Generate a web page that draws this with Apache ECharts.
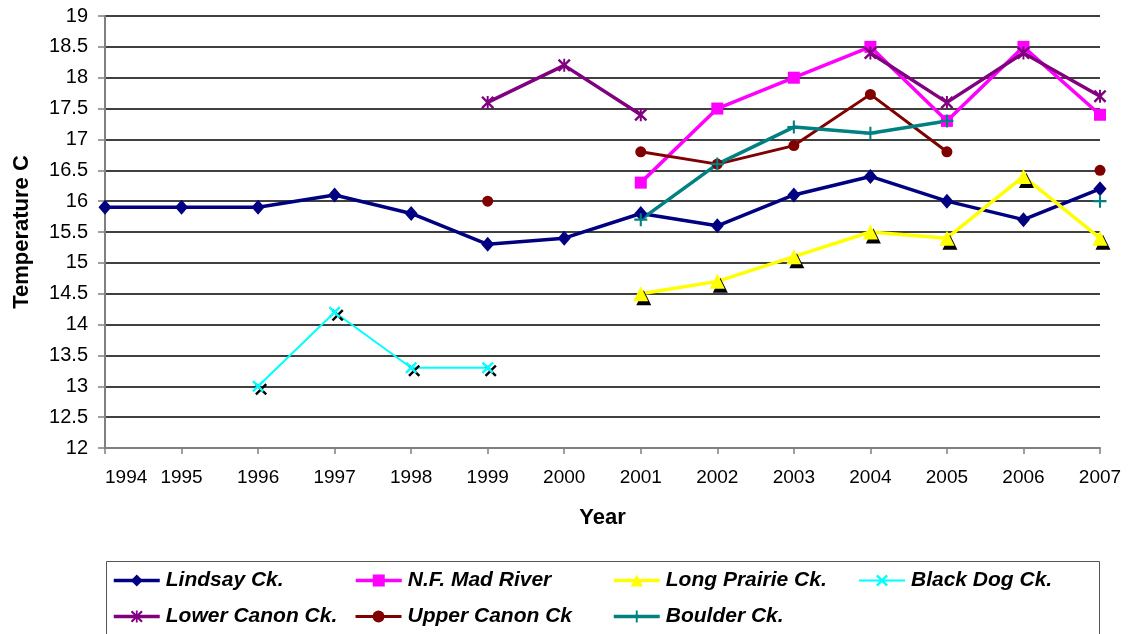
<!DOCTYPE html>
<html>
<head>
<meta charset="utf-8">
<script src="https://cdn.jsdelivr.net/npm/echarts@6/dist/echarts.min.js"></script>
<style>
html,body{margin:0;padding:0;background:#fff;}
#chart{width:1135px;height:634px;}
</style>
</head>
<body>
<div id="chart"></div>
<script>
var years = ['1994','1995','1996','1997','1998','1999','2000','2001','2002','2003','2004','2005','2006','2007'];
var lindsay     = [15.9, 15.9, 15.9, 16.1, 15.8, 15.3, 15.4, 15.8, 15.6, 16.1, 16.4, 16.0, 15.7, 16.2];
var nfMadRiver  = [null, null, null, null, null, null, null, 16.3, 17.5, 18.0, 18.5, 17.3, 18.5, 17.4];
var longPrairie = [null, null, null, null, null, null, null, 14.5, 14.7, 15.1, 15.5, 15.4, 16.4, 15.4];
var blackDog    = [null, null, 13.0, 14.2, 13.3, 13.3, null, null, null, null, null, null, null, null];
var lowerCanon  = [null, null, null, null, null, 17.6, 18.2, 17.4, null, null, 18.4, 17.6, 18.4, 17.7];
var upperCanon  = [null, null, null, null, null, 16.0, null, 16.8, 16.6, 16.9, 17.73, 16.8, null, 16.5];
var boulder     = [null, null, null, null, null, null, null, 15.7, 16.6, 17.2, 17.1, 17.3, null, 16.0];

var FONT = "'Liberation Sans', Arial, sans-serif";
var X_PATH = 'path://M0,1.4L1.4,0L5,3.6L8.6,0L10,1.4L6.4,5L10,8.6L8.6,10L5,6.4L1.4,10L0,8.6L3.6,5Z';
var PLUS_PATH = 'path://M4.2,0H5.8V4.2H10V5.8H5.8V10H4.2V5.8H0V4.2H4.2Z';
var STAR_PATH = 'path://M0,1.3L1.3,0L5,3.7L8.7,0L10,1.3L6.3,5L10,8.7L8.7,10L5,6.3L1.3,10L0,8.7L3.7,5ZM4.25,0H5.75V10H4.25Z';

function mkSeries(name, data, color, symbol, size, width, extra) {
  var s = {
    name: name, type: 'line', data: data,
    symbol: symbol, symbolSize: size, showSymbol: true,
    connectNulls: false,
    lineStyle: {color: color, width: width},
    itemStyle: {color: color},
    emphasis: {disabled: true}
  };
  if (extra) { for (var k in extra) s.itemStyle[k] = extra[k]; }
  return s;
}

var series = [
  mkSeries('Lindsay Ck.', lindsay, '#000080', 'diamond', [13, 15], 3.5),
  mkSeries('N.F. Mad River', nfMadRiver, '#FF00FF', 'rect', 12, 3.5),
  mkSeries('Long Prairie Ck.', longPrairie, '#FFFF00', 'triangle', 15, 3.5,
           {shadowColor: '#000', shadowOffsetX: 3, shadowOffsetY: 4, shadowBlur: 0}),
  mkSeries('Black Dog Ck.', blackDog, '#00FFFF', X_PATH, 12, 2,
           {shadowColor: '#000', shadowOffsetX: 3, shadowOffsetY: 3, shadowBlur: 0}),
  mkSeries('Lower Canon Ck.', lowerCanon, '#800080', STAR_PATH, 13, 3.5),
  mkSeries('Upper Canon Ck', upperCanon, '#800000', 'circle', 11, 3),
  mkSeries('Boulder Ck.', boulder, '#008080', PLUS_PATH, 13, 3.5)
];

var legendPos = [
  ['Lindsay Ck.', 112, 578, 3.5],
  ['N.F. Mad River', 354, 578, 3.5],
  ['Long Prairie Ck.', 612, 578, 3.5],
  ['Black Dog Ck.', 858, 578, 2],
  ['Lower Canon Ck.', 112, 614, 3.5],
  ['Upper Canon Ck', 354, 614, 3],
  ['Boulder Ck.', 612, 614, 3.5]
];
var legends = legendPos.map(function (p) {
  return {
    data: [p[0]], left: p[1], top: p[2] - 8, padding: 0,
    itemWidth: 46, itemHeight: 15, itemGap: 0,
    selectedMode: false,
    lineStyle: {width: p[3]},
    itemStyle: {shadowBlur: 0, shadowOffsetX: 0, shadowOffsetY: 0, shadowColor: 'rgba(0,0,0,0)'},
    textStyle: {fontFamily: FONT, fontSize: 21, fontWeight: 'bold', fontStyle: 'italic', color: '#000', padding: [0, 0, 0, 1]}
  };
});

var chart = echarts.init(document.getElementById('chart'), null, {renderer: 'canvas'});
chart.setOption({
  animation: false,
  backgroundColor: '#fff',
  grid: {left: 105, right: 35, top: 16, bottom: 186, containLabel: false, outerBoundsMode: 'none'},
  legend: legends,
  graphic: [{
    type: 'rect', left: 104, top: 559, silent: true,
    shape: {width: 993, height: 90},
    style: {fill: 'none', stroke: '#555', lineWidth: 1}
  }],
  xAxis: {
    type: 'category', data: years, boundaryGap: false,
    name: 'Year', nameLocation: 'middle', nameGap: 59,
    nameTextStyle: {fontFamily: FONT, fontSize: 22, fontWeight: 'bold', color: '#000'},
    axisLine: {lineStyle: {color: '#808080', width: 2}},
    axisTick: {show: true, length: 6, lineStyle: {color: '#808080', width: 1.5}, alignWithLabel: true},
    axisLabel: {fontFamily: FONT, fontSize: 19, color: '#000', margin: 20, interval: 0, alignMinLabel: 'left'},
    splitLine: {show: false}
  },
  yAxis: {
    type: 'value', min: 12, max: 19, interval: 0.5,
    name: 'Temperature C', nameLocation: 'middle', nameGap: 72,
    nameTextStyle: {fontFamily: FONT, fontSize: 22, fontWeight: 'bold', color: '#000'},
    axisLine: {show: true, lineStyle: {color: '#808080', width: 2}},
    axisTick: {show: true, length: 7, lineStyle: {color: '#808080', width: 1.5}},
    axisLabel: {fontFamily: FONT, fontSize: 20, color: '#000', margin: 17},
    splitLine: {show: true, lineStyle: {color: '#000', width: 1.5}}
  },
  series: series
});
</script>
</body>
</html>
